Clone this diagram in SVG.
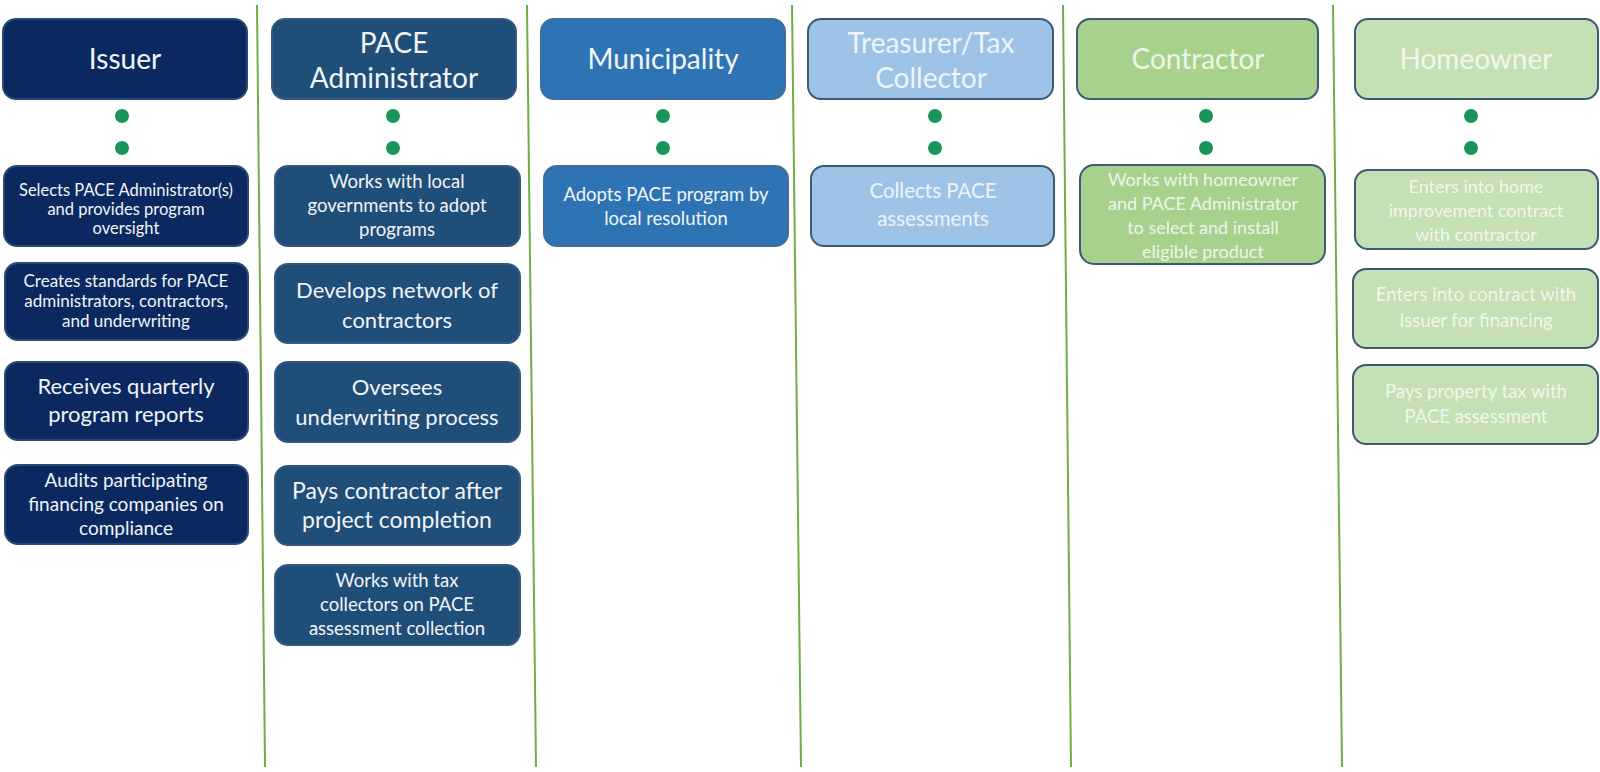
<svg xmlns="http://www.w3.org/2000/svg" width="1600" height="772" viewBox="0 0 1600 772">
  <style>
    .box { stroke: #3c5a78; stroke-width: 2; }
    .issuer { fill: #0b2960; stroke: #2a4a72; }
    .admin { fill: #1f4e79; stroke: #35597f; }
    .muni { fill: #2e74b5; stroke: #3f6e9a; }
    .treas { fill: #9dc3e6; }
    .contr { fill: #a9d18e; }
    .home { fill: #c5e0b4; }
    text { font-family: Lato, "Liberation Sans", sans-serif; text-anchor: middle; }
    .hd { font-size: 28px; }
    .dark { fill: #f2f4f8; }
    .lt-blue { fill: #eef4fb; }
    .lt-green { fill: #eef6e8; }
    .lt-pale { fill: #f0f7ec; }
    .dot { fill: #17955a; }
    .sep { stroke: #70ad47; stroke-width: 2; fill: none; }
  </style>

  <!-- column separators -->
  <g id="connectors">
    <line class="sep" x1="257" y1="5" x2="265" y2="767"/>
    <line class="sep" x1="527" y1="5" x2="536" y2="767"/>
    <line class="sep" x1="792" y1="5" x2="801" y2="767"/>
    <line class="sep" x1="1063" y1="5" x2="1071" y2="767"/>
    <line class="sep" x1="1333" y1="5" x2="1342" y2="767"/>
  </g>

  <!-- Issuer column -->
  <g id="issuer">
    <rect class="box issuer" x="3" y="19" width="244" height="80" rx="13"/>
    <text class="hd dark" x="125" y="69">Issuer</text>
    <circle class="dot" cx="122" cy="116" r="7"/>
    <circle class="dot" cx="122" cy="148" r="7"/>
  </g>
  <g id="issuer-1">
    <rect class="box issuer" x="4" y="166" width="244" height="80" rx="13"/>
    <text class="dark" font-size="16.5" x="126"><tspan x="126" y="196">Selects PACE Administrator(s)</tspan><tspan x="126" y="215">and provides program</tspan><tspan x="126" y="234">oversight</tspan></text>
  </g>
  <g id="issuer-2">
    <rect class="box issuer" x="5" y="263" width="243" height="77" rx="13"/>
    <text class="dark" font-size="17" x="126"><tspan x="126" y="287">Creates standards for PACE</tspan><tspan x="126" y="307">administrators, contractors,</tspan><tspan x="126" y="327">and underwriting</tspan></text>
  </g>
  <g id="issuer-3">
    <rect class="box issuer" x="5" y="362" width="243" height="78" rx="13"/>
    <text class="dark" font-size="22" x="126"><tspan x="126" y="394">Receives quarterly</tspan><tspan x="126" y="422">program reports</tspan></text>
  </g>
  <g id="issuer-4">
    <rect class="box issuer" x="5" y="465" width="243" height="79" rx="13"/>
    <text class="dark" font-size="19" x="126"><tspan x="126" y="487">Audits participating</tspan><tspan x="126" y="511">financing companies on</tspan><tspan x="126" y="535">compliance</tspan></text>
  </g>

  <!-- PACE Administrator column -->
  <g id="admin">
    <rect class="box admin" x="272" y="19" width="244" height="80" rx="13"/>
    <text class="hd dark" x="394"><tspan x="394" y="53">PACE</tspan><tspan x="394" y="88">Administrator</tspan></text>
    <circle class="dot" cx="393" cy="116" r="7"/>
    <circle class="dot" cx="393" cy="148" r="7"/>
  </g>
  <g id="admin-1">
    <rect class="box admin" x="275" y="166" width="245" height="80" rx="13"/>
    <text class="dark" font-size="18.5" x="397"><tspan x="397" y="188">Works with local</tspan><tspan x="397" y="212">governments to adopt</tspan><tspan x="397" y="236">programs</tspan></text>
  </g>
  <g id="admin-2">
    <rect class="box admin" x="275" y="264" width="245" height="79" rx="13"/>
    <text class="dark" font-size="22" x="397"><tspan x="397" y="298">Develops network of</tspan><tspan x="397" y="328">contractors</tspan></text>
  </g>
  <g id="admin-3">
    <rect class="box admin" x="275" y="362" width="245" height="80" rx="13"/>
    <text class="dark" font-size="22" x="397"><tspan x="397" y="395">Oversees</tspan><tspan x="397" y="425">underwriting process</tspan></text>
  </g>
  <g id="admin-4">
    <rect class="box admin" x="275" y="466" width="245" height="79" rx="13"/>
    <text class="dark" font-size="23" x="397"><tspan x="397" y="499">Pays contractor after</tspan><tspan x="397" y="528">project completion</tspan></text>
  </g>
  <g id="admin-5">
    <rect class="box admin" x="275" y="565" width="245" height="80" rx="13"/>
    <text class="dark" font-size="18.5" x="397"><tspan x="397" y="587">Works with tax</tspan><tspan x="397" y="611">collectors on PACE</tspan><tspan x="397" y="635">assessment collection</tspan></text>
  </g>

  <!-- Municipality column -->
  <g id="municipality">
    <rect class="box muni" x="541" y="19" width="244" height="80" rx="13"/>
    <text class="hd dark" x="663" y="69">Municipality</text>
    <circle class="dot" cx="663" cy="116" r="7"/>
    <circle class="dot" cx="663" cy="148" r="7"/>
  </g>
  <g id="municipality-1">
    <rect class="box muni" x="544" y="166" width="244" height="80" rx="13"/>
    <text class="dark" font-size="18.5" x="666"><tspan x="666" y="201">Adopts PACE program by</tspan><tspan x="666" y="225">local resolution</tspan></text>
  </g>

  <!-- Treasurer/Tax Collector column -->
  <g id="treasurer">
    <rect class="box treas" x="808" y="19" width="245" height="80" rx="13"/>
    <text class="hd lt-blue" x="931"><tspan x="931" y="53">Treasurer/Tax</tspan><tspan x="931" y="88">Collector</tspan></text>
    <circle class="dot" cx="935" cy="116" r="7"/>
    <circle class="dot" cx="935" cy="148" r="7"/>
  </g>
  <g id="treasurer-1">
    <rect class="box treas" x="811" y="166" width="243" height="80" rx="13"/>
    <text class="lt-blue" font-size="20.5" x="933"><tspan x="933" y="198">Collects PACE</tspan><tspan x="933" y="226">assessments</tspan></text>
  </g>

  <!-- Contractor column -->
  <g id="contractor">
    <rect class="box contr" x="1077" y="19" width="241" height="80" rx="13"/>
    <text class="hd lt-green" x="1198" y="69">Contractor</text>
    <circle class="dot" cx="1206" cy="116" r="7"/>
    <circle class="dot" cx="1206" cy="148" r="7"/>
  </g>
  <g id="contractor-1">
    <rect class="box contr" x="1080" y="165" width="245" height="99" rx="14"/>
    <text class="lt-green" font-size="18" x="1203"><tspan x="1203" y="186">Works with homeowner</tspan><tspan x="1203" y="210">and PACE Administrator</tspan><tspan x="1203" y="234">to select and install</tspan><tspan x="1203" y="258">eligible product</tspan></text>
  </g>

  <!-- Homeowner column -->
  <g id="homeowner">
    <rect class="box home" x="1355" y="19" width="243" height="80" rx="13"/>
    <text class="hd lt-pale" x="1476" y="69">Homeowner</text>
    <circle class="dot" cx="1471" cy="116" r="7"/>
    <circle class="dot" cx="1471" cy="148" r="7"/>
  </g>
  <g id="homeowner-1">
    <rect class="box home" x="1355" y="170" width="243" height="79" rx="13"/>
    <text class="lt-pale" font-size="18" x="1476"><tspan x="1476" y="193">Enters into home</tspan><tspan x="1476" y="217">improvement contract</tspan><tspan x="1476" y="241">with contractor</tspan></text>
  </g>
  <g id="homeowner-2">
    <rect class="box home" x="1353" y="269" width="245" height="79" rx="13"/>
    <text class="lt-pale" font-size="18.5" x="1476"><tspan x="1476" y="301">Enters into contract with</tspan><tspan x="1476" y="327">Issuer for financing</tspan></text>
  </g>
  <g id="homeowner-3">
    <rect class="box home" x="1353" y="365" width="245" height="79" rx="13"/>
    <text class="lt-pale" font-size="18.5" x="1476"><tspan x="1476" y="398">Pays property tax with</tspan><tspan x="1476" y="423">PACE assessment</tspan></text>
  </g>
</svg>
